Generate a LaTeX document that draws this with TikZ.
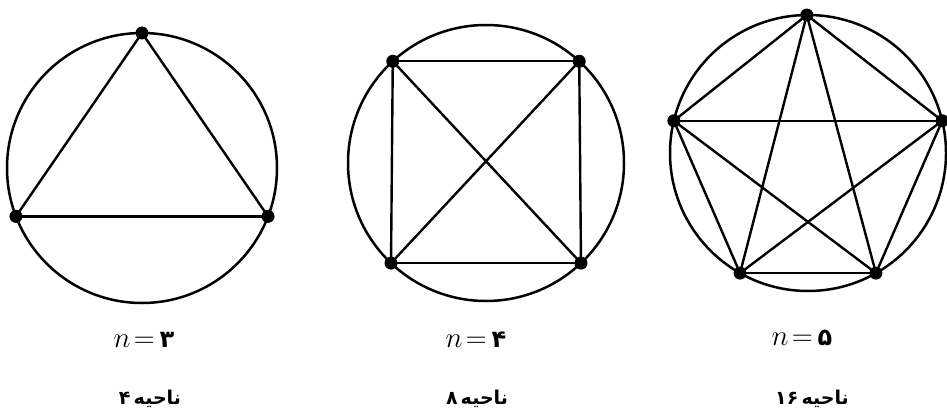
\RequirePackage{fix-cm}
\documentclass[tikz,border=0pt]{standalone}
\usepackage{fontspec}
\newfontfamily\arabicfont[Script=Arabic]{DejaVu Sans}
\newfontfamily\digitfont{DejaVu Sans}
\tikzset{
  rim/.style={line width=2.5pt},
  chord/.style={line width=2.4pt},
  dot/.style={circle, fill=black, inner sep=0pt, minimum size=13pt},
  nlabel/.style={font=\fontsize{29}{32}\selectfont, inner sep=0pt},
  rlabel/.style={font=\fontsize{19}{22}\selectfont\bfseries, inner sep=0pt},
}
\begin{document}
\begin{tikzpicture}[x=1pt,y=-1pt]
\useasboundingbox (0,0) rectangle (947,412);
% ---- n = 3
\coordinate (o1) at (142,168);
\draw[rim] (o1) circle[radius=135];
\node[dot] (a1) at ([shift={(-90:135)}]o1) {};
\node[dot] (a2) at ([shift={(159:135)}]o1) {};
\node[dot] (a3) at ([shift={(21:135)}]o1) {};
\foreach \p/\q in {a1/a2,a2/a3,a3/a1} \draw[chord] (\p.center) -- (\q.center);
% ---- n = 4
\coordinate (o2) at (486,163);
\draw[rim] (o2) circle[radius=138];
\node[dot] (b1) at ([shift={(-132.5:138)}]o2) {};
\node[dot] (b2) at ([shift={(-47.5:138)}]o2) {};
\node[dot] (b3) at ([shift={(46.5:138)}]o2) {};
\node[dot] (b4) at ([shift={(133.5:138)}]o2) {};
\foreach \p/\q in {b1/b2,b2/b3,b3/b4,b4/b1,b1/b3,b2/b4} \draw[chord] (\p.center) -- (\q.center);
% ---- n = 5
\coordinate (o3) at (808,153);
\draw[rim] (o3) circle[radius=138];
\node[dot] (c1) at ([shift={(-90.5:138)}]o3) {};
\node[dot] (c2) at ([shift={(-13.5:138)}]o3) {};
\node[dot] (c3) at ([shift={(60.5:138)}]o3) {};
\node[dot] (c4) at ([shift={(119.5:138)}]o3) {};
\node[dot] (c5) at ([shift={(-166.5:138)}]o3) {};
\foreach \p/\q in {c1/c2,c1/c3,c1/c4,c1/c5,c2/c3,c2/c4,c2/c5,c3/c4,c3/c5,c4/c5} \draw[chord] (\p.center) -- (\q.center);
% ---- labels
\node[nlabel] (n1) at (144,340) {$n\!=$\,{\digitfont\bfseries\fontsize{24}{26}\selectfont ۳}};
\node[nlabel] (n2) at (476,340) {$n\!=$\,{\digitfont\bfseries\fontsize{24}{26}\selectfont ۴}};
\node[nlabel] (n3) at (802,338) {$n\!=$\,{\digitfont\bfseries\fontsize{24}{26}\selectfont ۵}};
\node[rlabel] (r1) at (150,399) {{\digitfont ۴}\,{\arabicfont ناحیه}};
\node[rlabel] (r2) at (477,399) {{\digitfont ۸}\,{\arabicfont ناحیه}};
\node[rlabel] (r3) at (812,399) {{\digitfont ۱۶}\,{\arabicfont ناحیه}};
\end{tikzpicture}
\end{document}
